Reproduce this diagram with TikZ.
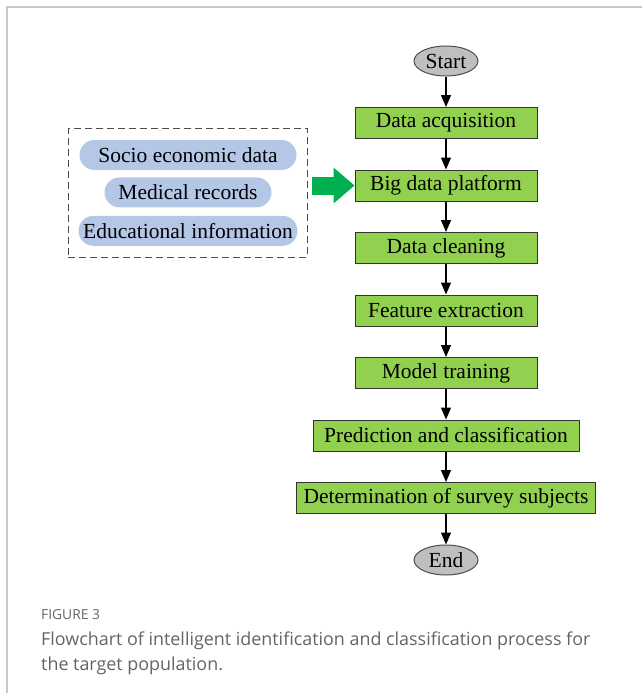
\documentclass[tikz,border=0pt]{standalone}
\usepackage{fontspec}
\setmainfont{Liberation Serif}
\newfontfamily\capfont{Open Sans}
\usetikzlibrary{positioning}
\usetikzlibrary{shapes.geometric,shapes.misc}
\usetikzlibrary{arrows.meta}
\usetikzlibrary{fit}
\definecolor{boxgreen}{RGB}{146,208,80}
\definecolor{pillblue}{RGB}{180,199,231}
\definecolor{pushgreen}{RGB}{0,176,80}
\definecolor{framegray}{RGB}{200,200,200}
\definecolor{capgray}{RGB}{100,100,100}

\begin{document}
\begin{tikzpicture}[x=1pt, y=-1pt,
stepbox/.style={rectangle, draw=black!80, fill=boxgreen, line width=1pt, minimum width=182pt, minimum height=31pt, inner sep=2pt, font=\fontsize{21.5}{25}\selectfont},
endnode/.style={ellipse, draw=black!70, fill=gray!50, line width=1pt, minimum width=64pt, minimum height=30pt, inner sep=0pt, font=\fontsize{21.5}{25}\selectfont},
sourcenode/.style={rounded rectangle, fill=pillblue, minimum height=30pt, inner sep=2pt, font=\fontsize{21.5}{25}\selectfont},
flow/.style={-{Triangle[length=12pt,width=10pt]}, line width=1.2pt},
node distance=30.5pt]
\useasboundingbox (0,0) rectangle (642,693);
\draw[framegray, line width=2pt] (7,693) -- (7,7) -- (642,7);

\node[endnode] (start) at (446,61) {Start};
\node[stepbox] (acq) [below=of start] {Data acquisition};
\node[stepbox] (bdp) [below=of acq] {Big data platform};
\node[stepbox] (clean) [below=of bdp] {Data cleaning};
\node[stepbox] (feat) [below=of clean] {Feature extraction};
\node[stepbox] (train) [below=of feat] {Model training};
\node[stepbox, minimum width=266pt] (pred) [below=of train] {Prediction and classification};
\node[stepbox, minimum width=299pt] (subj) [below=of pred] {Determination of survey subjects};
\node[endnode] (end) [below=of subj] {End};

\node[sourcenode, minimum width=221pt] (socio) at (188,155) {Socio economic data};
\node[sourcenode, minimum width=171pt] (medical) [below=7pt of socio] {Medical records};
\node[sourcenode, minimum width=223pt] (edu) [below=8pt of medical] {Educational information};
\node[draw=black!70, dashed, dash pattern=on 7pt off 4pt, line width=1pt, inner xsep=10pt, inner ysep=11pt, fit=(socio)(medical)(edu)] (sources) {};

\draw[flow] (start) -- (acq);
\draw[flow] (acq) -- (bdp);
\draw[flow] (bdp) -- (clean);
\draw[flow] (clean) -- (feat);
\draw[flow] (feat) -- (train);
\draw[flow] (train) -- (pred);
\draw[flow] (pred) -- (subj);
\draw[flow] (subj) -- (end);
\draw[pushgreen, line width=18pt, -{Triangle[length=21pt,width=36pt,line width=0pt]}] ([xshift=4pt]sources.east |- bdp.west) -- (bdp.west);

\node[anchor=base west, inner sep=0pt, text=capgray, font=\capfont\fontsize{13.8}{16}\selectfont] (figlabel) at (41,619) {FIGURE 3};
\node[anchor=north west, inner sep=0pt, text=capgray, align=left, font=\capfont\fontsize{17.9}{25}\selectfont] (figcaption) at (41,632) {Flowchart of intelligent identification and classification process for\\the target population.};
\end{tikzpicture}
\end{document}
